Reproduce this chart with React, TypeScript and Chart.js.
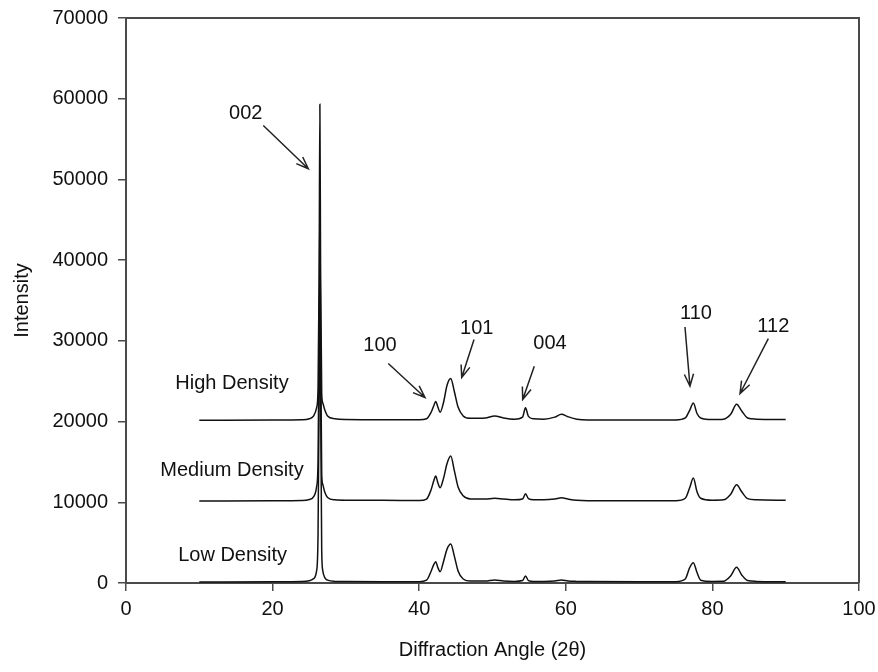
import { useEffect, useRef } from "react";
import { Chart, registerables } from "chart.js";

Chart.register(...registerables);

// Diffraction angle (2θ) samples shared by the three scans
const angles = [
  10, 20, 24, 25, 25.6, 26.0, 26.2, 26.35, 26.45, 26.55, 26.7, 26.85, 27.1, 27.5, 28.5, 30, 35, 40,
  41, 41.6, 42.0, 42.25, 42.55, 42.85, 43.3, 43.8, 44.3, 44.8, 45.3, 46, 47, 49, 50.3, 51.5, 53,
  54.1, 54.5, 54.9, 55.6, 57, 58.5, 59.4, 60.3, 61.5, 63, 70, 75, 76.3, 76.9, 77.4, 77.9, 78.4, 80,
  81.5, 82.5, 83.3, 84.0, 84.8, 86, 90,
];

// Intensities (curves are stacked with a 10000-count offset)
const highDensity = [
  20150, 20180, 20220, 20350, 20700, 21700, 24000, 38000, 59300, 38000, 23500, 22300, 21500, 20700,
  20350, 20250, 20220, 20220, 20350, 21100, 22000, 22500, 21800, 21150, 22300, 24500, 25330, 23700,
  21800, 20700, 20400, 20450, 20700, 20450, 20300, 20550, 21700, 20650, 20350, 20300, 20550, 20900,
  20600, 20300, 20200, 20200, 20200, 20450, 21400, 22300, 21000, 20450, 20250, 20300, 20900, 22150,
  21300, 20450, 20300, 20250,
];
const mediumDensity = [
  10150, 10180, 10220, 10350, 10700, 11900, 15000, 30000, 47000, 30000, 13500, 12200, 11300, 10600,
  10300, 10250, 10250, 10220, 10400, 11500, 12700, 13250, 12400, 11800, 12900, 14800, 15720, 13900,
  11900, 10800, 10400, 10400, 10500, 10400, 10300, 10400, 11050, 10450, 10300, 10300, 10400, 10550,
  10400, 10250, 10200, 10200, 10200, 10500, 11800, 13000, 11300, 10500, 10250, 10300, 11000, 12170,
  11300, 10450, 10300, 10250,
];
const lowDensity = [
  120, 150, 180, 280, 550, 1500, 6000, 24000, 39000, 24000, 4000, 1500, 700, 350, 200, 180, 170, 170,
  350, 1400, 2300, 2640, 1900, 1400, 2600, 4200, 4830, 3300, 1500, 500, 250, 250, 380, 250, 200, 300,
  870, 300, 200, 200, 250, 380, 250, 200, 180, 160, 170, 500, 1900, 2510, 1300, 350, 200, 220, 900,
  1940, 1000, 300, 200, 160,
];

const xTicks = [0, 20, 40, 60, 80, 100];
const yTicks = [0, 10000, 20000, 30000, 40000, 50000, 60000, 70000];

// Curve captions, placed in data units (angle, intensity)
const seriesNames = ["High Density", "Medium Density", "Low Density"];
const seriesLabelAngle = [14.46, 14.46, 14.55];
const seriesLabelIntensity = [24700, 13900, 3470];

// Miller-index call-outs with their arrows, in data units
const reflections = ["002", "100", "101", "004", "110", "112"];
const reflectionText = [
  [16.33, 58130], [34.65, 29460], [47.85, 31520], [57.84, 29670], [77.76, 33420], [88.31, 31720],
];
const arrowFrom = [
  [18.73, 56680], [35.78, 27190], [47.48, 30160], [55.7, 26860], [76.26, 31720], [87.63, 30280],
];
const arrowTo = [
  [24.87, 51320], [40.79, 22980], [45.8, 25460], [54.12, 22730], [76.94, 24380], [83.77, 23480],
];

const FONT = "'Liberation Sans', Arial, Helvetica, sans-serif";
const AXIS = "#4a4a4a";
const INK = "#111";

const annotationPlugin = {
  id: "xrdAnnotations",
  afterDatasetsDraw(chart: any) {
    const { ctx, chartArea, scales } = chart;
    const xs = scales.x;
    const ys = scales.y;
    ctx.save();

    // frame top and right
    ctx.strokeStyle = AXIS;
    ctx.lineWidth = 2;
    ctx.beginPath();
    ctx.moveTo(chartArea.left, chartArea.top);
    ctx.lineTo(chartArea.right, chartArea.top);
    ctx.lineTo(chartArea.right, chartArea.bottom);
    ctx.stroke();

    ctx.fillStyle = INK;
    ctx.font = `20px ${FONT}`;
    ctx.textAlign = "center";
    ctx.textBaseline = "middle";

    seriesNames.forEach((name, i) => {
      ctx.fillText(
        name,
        xs.getPixelForValue(seriesLabelAngle[i]),
        ys.getPixelForValue(seriesLabelIntensity[i])
      );
    });

    reflections.forEach((label, i) => {
      ctx.fillStyle = INK;
      ctx.fillText(
        label,
        xs.getPixelForValue(reflectionText[i][0]),
        ys.getPixelForValue(reflectionText[i][1])
      );
      const x0 = xs.getPixelForValue(arrowFrom[i][0]);
      const y0 = ys.getPixelForValue(arrowFrom[i][1]);
      const x1 = xs.getPixelForValue(arrowTo[i][0]);
      const y1 = ys.getPixelForValue(arrowTo[i][1]);
      const ang = Math.atan2(y1 - y0, x1 - x0);
      const head = 13;
      const spread = 0.36;
      ctx.strokeStyle = "#222";
      ctx.lineWidth = 1.5;
      ctx.beginPath();
      ctx.moveTo(x0, y0);
      ctx.lineTo(x1, y1);
      ctx.moveTo(x1 - head * Math.cos(ang - spread), y1 - head * Math.sin(ang - spread));
      ctx.lineTo(x1, y1);
      ctx.lineTo(x1 - head * Math.cos(ang + spread), y1 - head * Math.sin(ang + spread));
      ctx.stroke();
    });

    ctx.restore();
  },
};

export default function App() {
  const canvasRef = useRef<HTMLCanvasElement | null>(null);

  useEffect(() => {
    const canvas = canvasRef.current;
    if (!canvas) return;

    const makeSeries = (values: number[]) =>
      angles.map((a, i) => ({ x: a, y: values[i] }));

    const lineStyle = {
      borderColor: INK,
      borderWidth: 1.5,
      pointRadius: 0,
      fill: false,
      cubicInterpolationMode: "monotone" as const,
    };

    const chart = new Chart(canvas, {
      type: "line",
      data: {
        datasets: [
          { label: seriesNames[0], data: makeSeries(highDensity), ...lineStyle },
          { label: seriesNames[1], data: makeSeries(mediumDensity), ...lineStyle },
          { label: seriesNames[2], data: makeSeries(lowDensity), ...lineStyle },
        ],
      },
      options: {
        animation: false,
        responsive: true,
        maintainAspectRatio: false,
        layout: { padding: { top: 18, right: 19, left: 0, bottom: 0 } },
        plugins: {
          legend: { display: false },
          tooltip: { enabled: false },
        },
        scales: {
          x: {
            type: "linear",
            min: 0,
            max: 100,
            afterBuildTicks: (s: any) => {
              s.ticks = xTicks.map((v) => ({ value: v }));
            },
            afterFit: (s: any) => {
              s.height = 89;
              s.paddingLeft = 0;
              s.paddingRight = 0;
            },
            border: { display: true, color: AXIS, width: 2 },
            grid: {
              display: true,
              drawOnChartArea: false,
              drawTicks: true,
              tickLength: 8,
              color: AXIS,
              lineWidth: 1.5,
            },
            ticks: {
              color: INK,
              font: { family: FONT, size: 20 },
              padding: 6,
              maxRotation: 0,
              callback: (v: any) => String(v),
            },
            title: {
              display: true,
              text: "Diffraction Angle (2θ)",
              color: INK,
              font: { family: FONT, size: 20 },
              padding: { top: 0, bottom: 10 },
            },
          },
          y: {
            type: "linear",
            min: 0,
            max: 70000,
            afterBuildTicks: (s: any) => {
              s.ticks = yTicks.map((v) => ({ value: v }));
            },
            afterFit: (s: any) => {
              s.width = 126;
              s.paddingTop = 0;
              s.paddingBottom = 0;
            },
            border: { display: true, color: AXIS, width: 2 },
            grid: {
              display: true,
              drawOnChartArea: false,
              drawTicks: true,
              tickLength: 8,
              color: AXIS,
              lineWidth: 1.5,
            },
            ticks: {
              color: INK,
              font: { family: FONT, size: 20 },
              padding: 10,
              callback: (v: any) => String(v),
            },
            title: {
              display: true,
              text: "Intensity",
              color: INK,
              font: { family: FONT, size: 20 },
              padding: { top: 10, bottom: 0 },
            },
          },
        },
      },
      plugins: [annotationPlugin],
    });

    return () => chart.destroy();
  }, []);

  return (
    <div
      style={{
        position: "fixed",
        left: 0,
        top: 0,
        width: 878,
        height: 672,
        background: "#fff",
      }}
    >
      <canvas ref={canvasRef} />
    </div>
  );
}
